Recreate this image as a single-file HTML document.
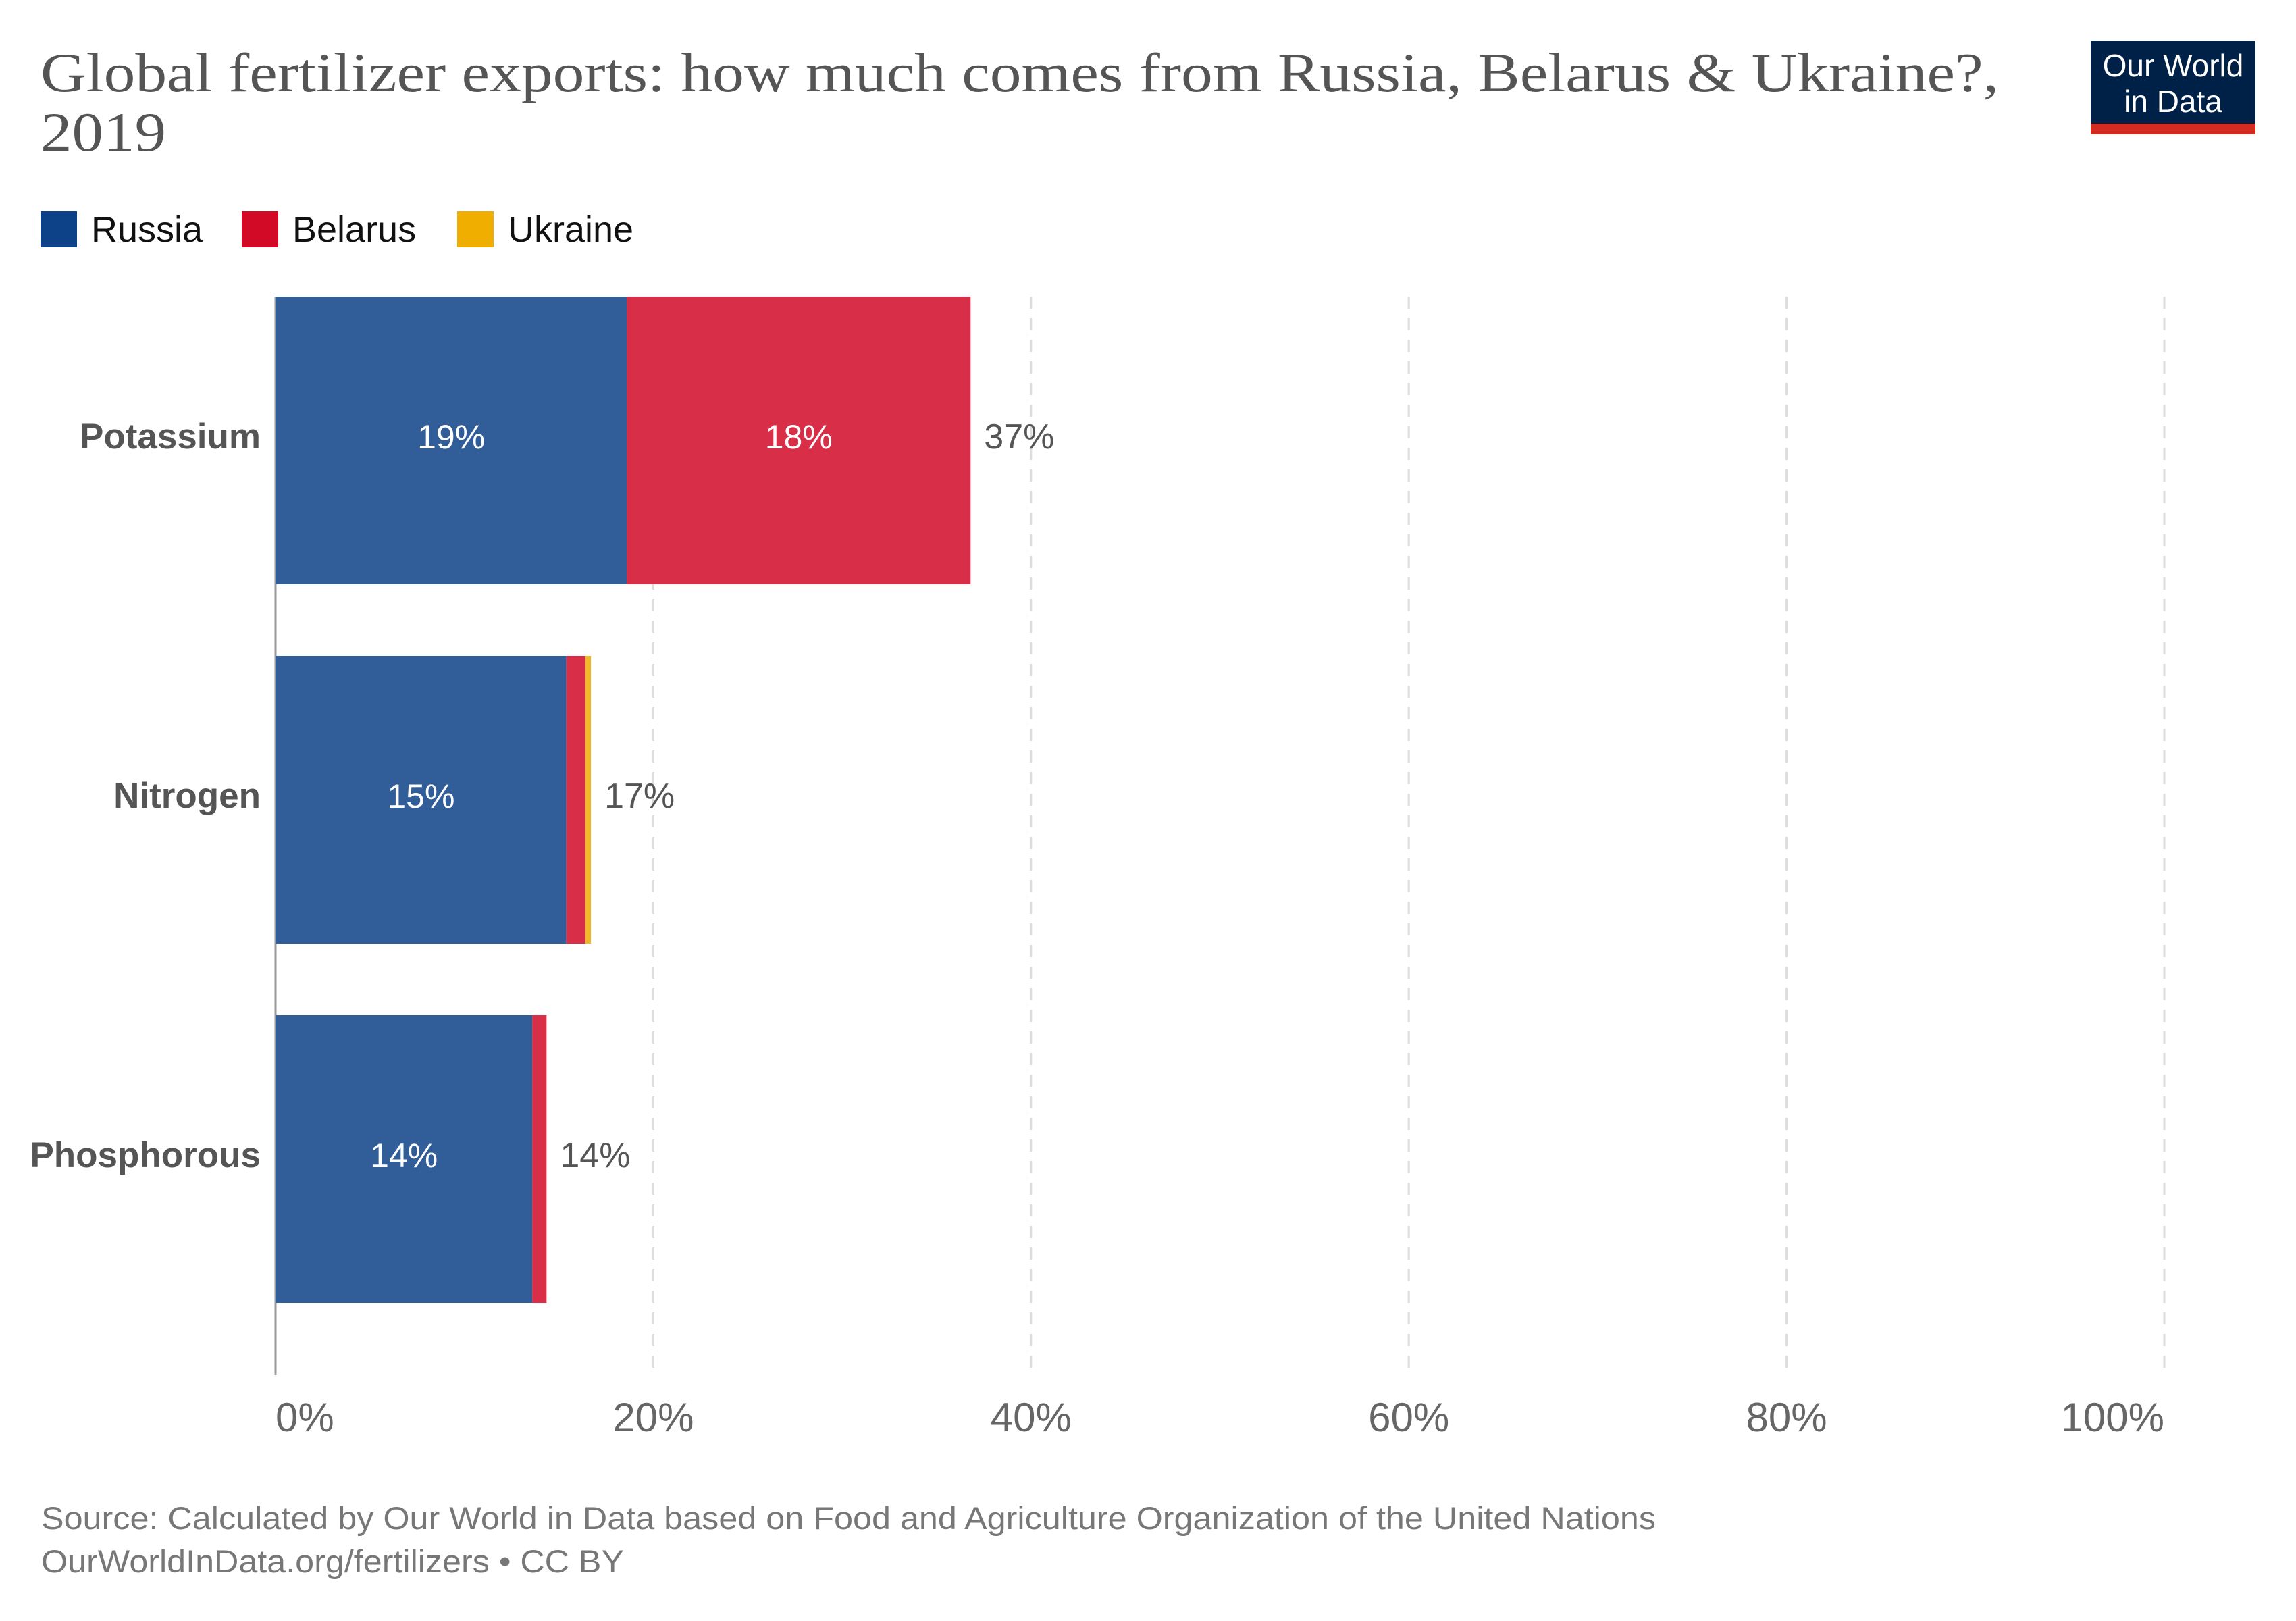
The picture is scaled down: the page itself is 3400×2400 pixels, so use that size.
<!DOCTYPE html>
<html><head><meta charset="utf-8"><style>
html,body{margin:0;padding:0;background:#fff;}
svg{display:block;}
</style></head><body>
<svg id="chart" width="3400" height="2400" viewBox="0 0 3400 2400" xmlns="http://www.w3.org/2000/svg">
<rect width="3400" height="2400" fill="#fff"/>
<text x="60" y="135" font-family="'Liberation Serif',serif" font-size="82" fill="#555" textLength="2900" lengthAdjust="spacingAndGlyphs">Global fertilizer exports: how much comes from Russia, Belarus &amp; Ukraine?,</text>
<text x="60" y="223" font-family="'Liberation Serif',serif" font-size="82" fill="#555" textLength="186" lengthAdjust="spacingAndGlyphs">2019</text>
<g>
<rect x="3096" y="60" width="244" height="139" fill="#002147"/>
<rect x="3096" y="183" width="244" height="16" fill="#d42b21"/>
<text x="3218" y="113" text-anchor="middle" font-family="'Liberation Sans',sans-serif" font-size="46" fill="#fff">Our World</text>
<text x="3218" y="166" text-anchor="middle" font-family="'Liberation Sans',sans-serif" font-size="46" fill="#fff">in Data</text>
</g>
<g id="legend" font-family="'Liberation Sans',sans-serif" font-size="54" fill="#111"></g>
<g id="grid"></g>
<g id="bars"></g>
<g id="labels" font-family="'Liberation Sans',sans-serif"></g>
<text x="61" y="2264" font-family="'Liberation Sans',sans-serif" font-size="47" fill="#777" textLength="2391" lengthAdjust="spacingAndGlyphs">Source: Calculated by Our World in Data based on Food and Agriculture Organization of the United Nations</text>
<text x="61" y="2328" font-family="'Liberation Sans',sans-serif" font-size="47" fill="#777" textLength="863" lengthAdjust="spacingAndGlyphs">OurWorldInData.org/fertilizers • CC BY</text>
</svg>
<script>
const categories = ["Potassium", "Nitrogen", "Phosphorous"];
const seriesNames = ["Russia", "Belarus", "Ukraine"];
const russia = [18.6, 15.4, 13.6];
const belarus = [18.2, 1.0, 0.75];
const ukraine = [0, 0.3, 0];
const ticks = [0, 20, 40, 60, 80, 100];
const tickLabels = ["0%", "20%", "40%", "60%", "80%", "100%"];

const NS = "http://www.w3.org/2000/svg";
const colors = ["#315d99", "#d92e47", "#f0b92a"];
const legendColors = ["#0e4288", "#d20a26", "#f0af00"];
const x0 = 408, pxPer = 27.97;
const xs = v => x0 + v * pxPer;
const barTop0 = 439, barStep = 532, barH = 426;
const ys = i => barTop0 + i * barStep;
const axisBottom = 2036;
function mk(tag, attrs, parent, text){
  const e = document.createElementNS(NS, tag);
  for (const k in attrs) e.setAttribute(k, attrs[k]);
  if (text !== undefined) e.textContent = text;
  parent.appendChild(e); return e;
}
const grid = document.getElementById('grid');
const bars = document.getElementById('bars');
const labels = document.getElementById('labels');
const legend = document.getElementById('legend');

const legX = [60, 358, 677];
seriesNames.forEach((n, i) => {
  const r = mk('rect', {x: legX[i], y: 313, width: 54, height: 53, fill: legendColors[i]}, legend);
  
  
  const t = mk('text', {x: legX[i] + 75, y: 358}, legend, n);
  
  
});

ticks.forEach((t, i) => {
  if (t > 0) {
    const l = mk('line', {x1: xs(t), x2: xs(t), y1: barTop0, y2: axisBottom, stroke: '#ddd', 'stroke-width': 3, 'stroke-dasharray': '18,14'}, grid);
    
    
  }
  const anchor = i === 0 ? 'start' : (i === ticks.length - 1 ? 'end' : 'middle');
  const tx = mk('text', {x: xs(t), y: 2119, 'text-anchor': anchor, 'font-size': 60, fill: '#666', 'font-family': "'Liberation Sans',sans-serif"}, grid, tickLabels[i]);
  
  
});

const series = [russia, belarus, ukraine];
categories.forEach((c, i) => {
  let acc = 0;
  const y = ys(i);
  const ly = y + barH / 2 + 12;
  series.forEach((s, k) => {
    const v = s[i];
    if (v <= 0) return;
    const r = mk('rect', {x: xs(acc), y: y, width: v * pxPer, height: barH, fill: colors[k]}, bars);
    
    
    if (v * pxPer > 120) {
      const t = mk('text', {x: xs(acc + v / 2), y: ly, 'text-anchor': 'middle', 'font-size': 50, fill: '#fff'}, labels, Math.round(v) + '%');
      
      
    }
    acc += v;
  });
  const tot = mk('text', {x: xs(acc) + 20, y: ly, 'font-size': 52, fill: '#555'}, labels, Math.round(acc) + '%');
  
  
  const cl = mk('text', {x: 386, y: ly, 'text-anchor': 'end', 'font-size': 53, 'font-weight': 'bold', fill: '#555'}, labels, c);
  
  
});
const ax = mk('line', {x1: x0, x2: x0, y1: barTop0, y2: axisBottom, stroke: '#999', 'stroke-width': 3}, grid);


</script>
</body></html>
